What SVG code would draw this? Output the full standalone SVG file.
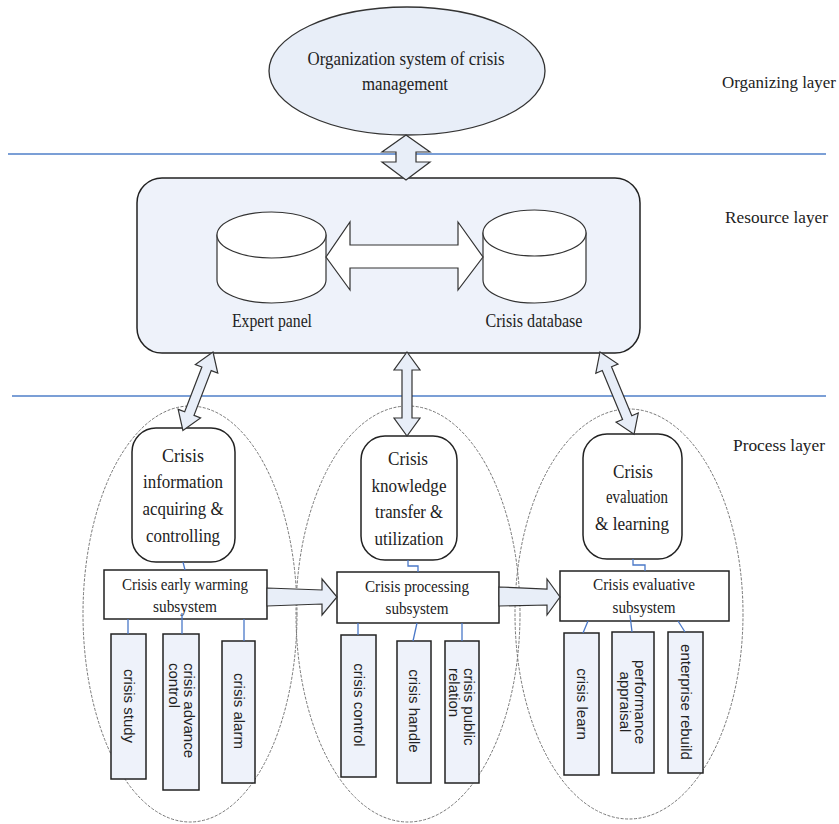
<svg xmlns="http://www.w3.org/2000/svg" width="839" height="824" viewBox="0 0 839 824">
<defs>
<style>
.t{fill:#222;text-anchor:middle}
.lay{fill:#222;font-size:17px}
.v{font-family:'Liberation Sans',Arial,sans-serif;fill:#222;font-size:15px}
.sep{stroke:#4f7fc8;stroke-width:1.5}
.pe{fill:none;stroke:#777;stroke-width:1;stroke-dasharray:3,1.5}
.node{fill:#fff;stroke:#222;stroke-width:1.5}
.vbox{fill:#eef2fa;stroke:#222;stroke-width:1.5}
.blk{fill:#e8eef8;stroke:#333;stroke-width:1.2;stroke-linejoin:miter}
.lnk{fill:none;stroke:#4a78c8;stroke-width:1.3}
</style>
</defs>
<rect width="839" height="824" fill="#fff"/>

<line class="sep" x1="8" y1="154" x2="826" y2="154"/>
<line class="sep" x1="12" y1="396" x2="826" y2="396"/>

<g font-family="Liberation Serif, DejaVu Serif, serif">
<text class="lay" x="722" y="88" textLength="114" lengthAdjust="spacingAndGlyphs">Organizing layer</text>
<text class="lay" x="725" y="223" textLength="103" lengthAdjust="spacingAndGlyphs">Resource layer</text>
<text class="lay" x="733" y="451" textLength="92" lengthAdjust="spacingAndGlyphs">Process layer</text>
</g>

<g id="process-areas">
<ellipse class="pe" cx="190" cy="614" rx="107" ry="208"/>
<ellipse class="pe" cx="408" cy="614" rx="112" ry="208"/>
<ellipse class="pe" cx="629" cy="614" rx="114" ry="205"/>
</g>

<g id="org" font-family="Liberation Serif, DejaVu Serif, serif">
<ellipse cx="407" cy="71" rx="138" ry="64" fill="#e8eef8" stroke="#333" stroke-width="1.3"/>
<text class="t" x="406" y="65" font-size="19" textLength="197" lengthAdjust="spacingAndGlyphs">Organization system of crisis</text>
<text class="t" x="405" y="90" font-size="19" textLength="86" lengthAdjust="spacingAndGlyphs">management</text>
</g>

<g id="resource">
<rect x="137" y="178" width="503" height="175" rx="25" fill="#eef2fa" stroke="#222" stroke-width="1.5"/>
</g>
<g id="expert-panel" font-family="Liberation Serif, DejaVu Serif, serif">
<path d="M217,235 L217,280 A54.5,23 0 0 0 326,280 L326,235 Z" fill="#fff" stroke="#333" stroke-width="1.2"/>
<ellipse cx="271.5" cy="235" rx="54.5" ry="23" fill="#fff" stroke="#333" stroke-width="1.2"/>
<text class="t" x="272" y="327" font-size="18" textLength="80" lengthAdjust="spacingAndGlyphs">Expert panel</text>
</g>
<g id="crisis-database" font-family="Liberation Serif, DejaVu Serif, serif">
<path d="M483,233 L483,280 A51.5,23 0 0 0 586,280 L586,233 Z" fill="#fff" stroke="#333" stroke-width="1.2"/>
<ellipse cx="534.5" cy="233" rx="51.5" ry="23" fill="#fff" stroke="#333" stroke-width="1.2"/>
<text class="t" x="534" y="327" font-size="18" textLength="97" lengthAdjust="spacingAndGlyphs">Crisis database</text>
</g>

<g id="p1" font-family="Liberation Serif, DejaVu Serif, serif">
<rect class="node" x="132" y="428" width="103" height="134" rx="24"/>
<text class="t" font-size="19" x="183" y="462" textLength="42" lengthAdjust="spacingAndGlyphs">Crisis</text>
<text class="t" font-size="19" x="183" y="488" textLength="80" lengthAdjust="spacingAndGlyphs">information</text>
<text class="t" font-size="19" x="183" y="515" textLength="81" lengthAdjust="spacingAndGlyphs">acquiring &amp;</text>
<text class="t" font-size="19" x="183" y="542" textLength="74" lengthAdjust="spacingAndGlyphs">controlling</text>
</g>
<g id="p2" font-family="Liberation Serif, DejaVu Serif, serif">
<rect class="node" x="361" y="436" width="96" height="124" rx="24"/>
<text class="t" font-size="19" x="408" y="465" textLength="40" lengthAdjust="spacingAndGlyphs">Crisis</text>
<text class="t" font-size="19" x="409" y="492" textLength="75" lengthAdjust="spacingAndGlyphs">knowledge</text>
<text class="t" font-size="19" x="409" y="518" textLength="68" lengthAdjust="spacingAndGlyphs">transfer &amp;</text>
<text class="t" font-size="19" x="409" y="545" textLength="69" lengthAdjust="spacingAndGlyphs">utilization</text>
</g>
<g id="p3" font-family="Liberation Serif, DejaVu Serif, serif">
<rect class="node" x="583" y="434" width="99" height="125" rx="24"/>
<text class="t" font-size="19" x="633" y="478" textLength="40" lengthAdjust="spacingAndGlyphs">Crisis</text>
<text class="t" font-size="19" x="637" y="503" textLength="62" lengthAdjust="spacingAndGlyphs">evaluation</text>
<text class="t" font-size="19" x="632" y="530" textLength="74" lengthAdjust="spacingAndGlyphs">&amp; learning</text>
</g>

<g id="s1" font-family="Liberation Serif, DejaVu Serif, serif">
<rect class="node" x="104" y="570" width="163" height="49"/>
<text class="t" font-size="17" x="185" y="590" textLength="126" lengthAdjust="spacingAndGlyphs">Crisis early warming</text>
<text class="t" font-size="17" x="185" y="612" textLength="64" lengthAdjust="spacingAndGlyphs">subsystem</text>
</g>
<g id="s2" font-family="Liberation Serif, DejaVu Serif, serif">
<rect class="node" x="337" y="572" width="162" height="51"/>
<text class="t" font-size="17" x="417" y="592" textLength="104" lengthAdjust="spacingAndGlyphs">Crisis processing</text>
<text class="t" font-size="17" x="417" y="614" textLength="63" lengthAdjust="spacingAndGlyphs">subsystem</text>
</g>
<g id="s3" font-family="Liberation Serif, DejaVu Serif, serif">
<rect class="node" x="560" y="571" width="169" height="50"/>
<text class="t" font-size="17" x="644" y="590" textLength="102" lengthAdjust="spacingAndGlyphs">Crisis evaluative</text>
<text class="t" font-size="17" x="644" y="613" textLength="63" lengthAdjust="spacingAndGlyphs">subsystem</text>
</g>

<g id="v1">
<rect class="vbox" x="111" y="634" width="35" height="145"/>
<text class="v" text-anchor="middle" transform="translate(128.5,706) rotate(90)" y="5">crisis study</text>
</g>
<g id="v2">
<rect class="vbox" x="163" y="634" width="36" height="156"/>
<text class="v" transform="translate(181,663) rotate(90)"><tspan x="0" y="-3">crisis advance</tspan><tspan x="0" y="12">control</tspan></text>
</g>
<g id="v3">
<rect class="vbox" x="222" y="641" width="33" height="142"/>
<text class="v" text-anchor="middle" transform="translate(238.5,711) rotate(90)" y="5">crisis alarm</text>
</g>
<g id="v4">
<rect class="vbox" x="341" y="635" width="35" height="142"/>
<text class="v" text-anchor="middle" transform="translate(358.5,705) rotate(90)" y="5">crisis control</text>
</g>
<g id="v5">
<rect class="vbox" x="397" y="641" width="34" height="142"/>
<text class="v" text-anchor="middle" transform="translate(414,711) rotate(90)" y="5">crisis handle</text>
</g>
<g id="v6">
<rect class="vbox" x="445" y="641" width="34" height="142"/>
<text class="v" transform="translate(462,668) rotate(90)"><tspan x="0" y="-2">crisis public</tspan><tspan x="0" y="13">relation</tspan></text>
</g>
<g id="v7">
<rect class="vbox" x="564" y="633" width="35" height="142"/>
<text class="v" text-anchor="middle" transform="translate(581.5,704) rotate(90)" y="5">crisis learn</text>
</g>
<g id="v8">
<rect class="vbox" x="612" y="632" width="42" height="141"/>
<text class="v" text-anchor="middle" transform="translate(633,702) rotate(90)"><tspan x="0" y="-2">performance</tspan><tspan x="0" y="13">appraisal</tspan></text>
</g>
<g id="v9">
<rect class="vbox" x="668" y="632" width="35" height="141"/>
<text class="v" text-anchor="middle" transform="translate(685.5,702) rotate(90)" y="5">enterprise rebuild</text>
</g>

<g id="connectors">
<polygon class="blk" points="406,135 430,152 416,152 416,162 430,162 406,180 382,162 396,162 396,152 382,152"/>
<polygon points="326,257 350,222 350,245 458,245 458,222 483,257 458,290 458,268 350,268 350,290" fill="#fff" stroke="#333" stroke-width="1.2"/>
<polygon class="blk" transform="translate(213,352) rotate(111)" points="0,0 18,-12 18,-5 66,-5 66,-12 84,0 66,12 66,5 18,5 18,12"/>
<polygon class="blk" transform="translate(407,352) rotate(90)" points="0,0 18,-13 18,-5 66,-5 66,-13 84,0 66,13 66,5 18,5 18,13"/>
<polygon class="blk" transform="translate(600,352) rotate(67.5)" points="0,0 18,-12 18,-5 71,-5 71,-12 89,0 71,12 71,5 18,5 18,12"/>
<polygon class="blk" points="267,588 322,590 322,579 337,597 322,615 322,604 267,606"/>
<polygon class="blk" points="499,587 547,589 547,579 560,597 547,615 547,605 499,606"/>
<path class="lnk" d="M183,562 L185,570"/>
<path class="lnk" d="M408,560 L408,566 L418,566 L418,572"/>
<path class="lnk" d="M633,559 L633,565 L645,565 L645,571"/>
<path class="lnk" d="M128,619 L128,634"/>
<path class="lnk" d="M182,613 L182,634"/>
<path class="lnk" d="M244,619 L244,641"/>
<path class="lnk" d="M358,623 L358,635"/>
<path class="lnk" d="M417,623 L413,641"/>
<path class="lnk" d="M462,623 L462,641"/>
<path class="lnk" d="M588,621 L583,633"/>
<path class="lnk" d="M630,615 L632,632"/>
<path class="lnk" d="M678,621 L685,632"/>
</g>
</svg>
